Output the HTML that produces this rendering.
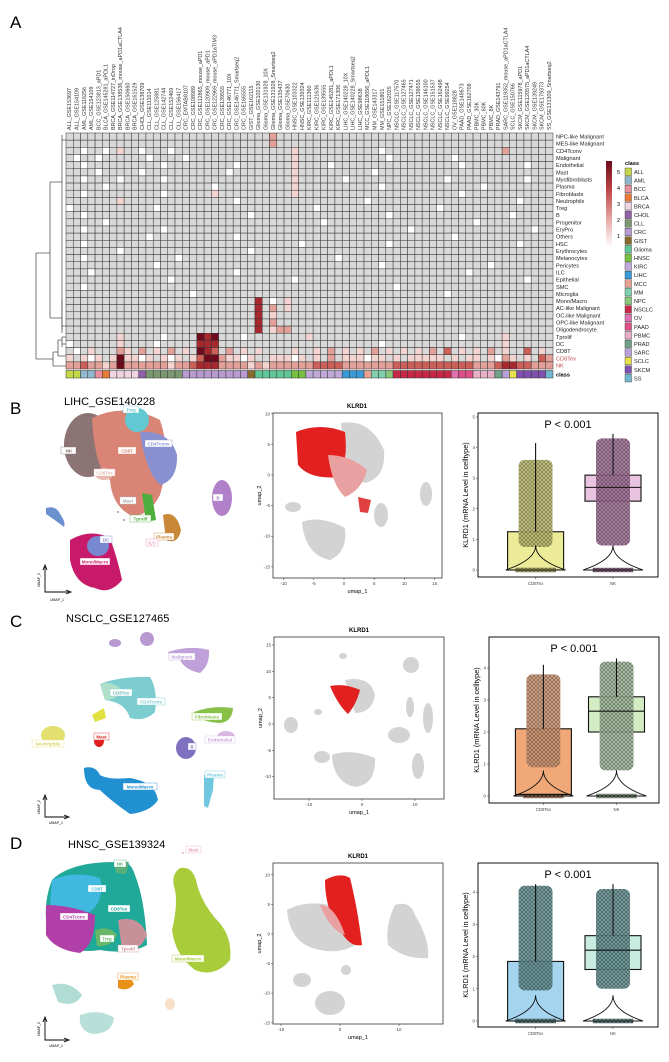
<!DOCTYPE html>
<html><head><meta charset="utf-8">
<style>
html,body{margin:0;padding:0;background:#fff;}
svg{display:block;font-family:"Liberation Sans",Arial,sans-serif;}
</style></head>
<body>
<svg id="fig" width="669" height="1062" viewBox="0 0 669 1062" xmlns="http://www.w3.org/2000/svg">
<defs>
 <pattern id="ptsOlive" width="4" height="4" patternUnits="userSpaceOnUse"><rect width="4" height="4" fill="#b8b878"/><circle cx="2" cy="2" r="1.4" fill="none" stroke="#5e5e20" stroke-width="0.6"/></pattern>
 <pattern id="ptsPurple" width="4" height="4" patternUnits="userSpaceOnUse"><rect width="4" height="4" fill="#a07898"/><circle cx="2" cy="2" r="1.4" fill="none" stroke="#4a2444" stroke-width="0.6"/></pattern>
 <pattern id="ptsBrown" width="4" height="4" patternUnits="userSpaceOnUse"><rect width="4" height="4" fill="#c89878"/><circle cx="2" cy="2" r="1.4" fill="none" stroke="#6a4430" stroke-width="0.6"/></pattern>
 <pattern id="ptsGreen" width="4" height="4" patternUnits="userSpaceOnUse"><rect width="4" height="4" fill="#a8bca0"/><circle cx="2" cy="2" r="1.4" fill="none" stroke="#3c5040" stroke-width="0.6"/></pattern>
 <pattern id="ptsTeal" width="4" height="4" patternUnits="userSpaceOnUse"><rect width="4" height="4" fill="#6e9494"/><circle cx="2" cy="2" r="1.4" fill="none" stroke="#1e3c40" stroke-width="0.6"/></pattern>
 <linearGradient id="cbar" x1="0" y1="0" x2="0" y2="1">
  <stop offset="0" stop-color="#6e0a1a"/><stop offset="0.35" stop-color="#c04848"/><stop offset="0.7" stop-color="#e8b0ac"/><stop offset="1" stop-color="#ffffff"/>
 </linearGradient>
</defs>

<!-- Panel labels & titles -->
<text x="10" y="28" font-size="17">A</text>
<text x="10" y="414" font-size="17">B</text>
<text x="10" y="627" font-size="17">C</text>
<text x="10" y="849" font-size="17">D</text>
<text x="64" y="405" font-size="11">LIHC_GSE140228</text>
<text x="66" y="622" font-size="11">NSCLC_GSE127465</text>
<text x="68" y="848" font-size="11">HNSC_GSE139324</text>

<g id="heat"></g>
<g id="dendro" stroke="#555" stroke-width="0.8" fill="none">
 <path d="M62,135 V330 M62,140 H66 M62,326 H66"/>
 <path d="M50,182 H62 M50,182 V318 M50,318 H62"/>
 <path d="M62,300 V333"/>
 <path d="M36,253 H50 M36,253 V359 M36,359 H53"/>
 <path d="M53,352 V366 M53,352 H58 M53,366 H66 M58,340 V356 M58,340 H62 M58,356 H66 M62,337 V347 M62,337 H66 M62,344 H66"/>
</g>

<!-- colorbar & class legend -->
<g>
 <rect x="606" y="161" width="6" height="86" fill="url(#cbar)"/>
 <text x="617" y="174" font-size="5.5">5</text>
 <text x="617" y="190" font-size="5.5">4</text>
 <text x="617" y="206" font-size="5.5">3</text>
 <text x="617" y="222" font-size="5.5">2</text>
 <text x="617" y="238" font-size="5.5">1</text>
</g>
<g id="classLegend"></g>

<!-- ===== Panel B ===== -->
<g>
 <ellipse cx="88" cy="445" rx="24" ry="32" fill="#8c7474"/>
 <path d="M92,418 Q125,402 160,420 Q172,455 160,495 Q148,518 130,515 Q112,505 110,480 Q95,470 92,418Z" fill="#d98474"/>
 <ellipse cx="137" cy="420" rx="12" ry="12" fill="#62c8d2"/>
 <path d="M140,432 Q170,430 177,455 Q178,480 160,485 Q145,470 140,432Z" fill="#8890d0"/>
 <ellipse cx="104" cy="474" rx="9" ry="6" fill="#e8b8b0"/>
 <path d="M142,493 L152,495 L156,520 L146,522Z" fill="#4cae3c"/>
 <path d="M163,515 Q176,510 181,530 Q178,545 166,540Z" fill="#c88838"/>
 <ellipse cx="222" cy="498" rx="10" ry="18" fill="#b080c8"/>
 <path d="M70,540 Q90,528 110,538 Q118,560 122,580 Q110,595 95,588 Q75,585 70,560Z" fill="#c81a6a"/>
 <ellipse cx="98" cy="546" rx="11" ry="10" fill="#7888d0"/>
 <path d="M46,508 Q56,505 60,514 Q66,522 64,527 Q55,520 46,514Z" fill="#6a90d0"/>
 <circle cx="149" cy="543" r="1.5" fill="#e890b8"/>
 <circle cx="122" cy="506" r="1" fill="#999"/><circle cx="118" cy="512" r="1" fill="#999"/><circle cx="124" cy="520" r="1" fill="#999"/>
 <g font-size="4.5" font-weight="bold" text-anchor="middle">
  <rect x="61" y="447" width="15" height="7" fill="#fff" stroke="#8c7474" stroke-width="0.4"/><text x="69" y="452.5" fill="#8c7474">NK</text>
  <rect x="118" y="447" width="18" height="7" fill="#fff" stroke="#d98474" stroke-width="0.4"/><text x="127" y="452.5" fill="#d98474">CD8T</text>
  <rect x="145" y="440" width="27" height="7" fill="#fff" stroke="#8890d0" stroke-width="0.4"/><text x="158.5" y="445.5" fill="#8890d0">CD4Tconv</text>
  <rect x="123" y="406" width="16" height="7" fill="#fff" stroke="#62c8d2" stroke-width="0.4"/><text x="131" y="411.5" fill="#62c8d2">Treg</text>
  <rect x="94" y="469" width="21" height="7" fill="#fff" stroke="#e8b8b0" stroke-width="0.4"/><text x="104.5" y="474.5" fill="#e8b8b0">CD8Tex</text>
  <rect x="120" y="497" width="16" height="7" fill="#fff" stroke="#bbb" stroke-width="0.4"/><text x="128" y="502.5" fill="#aaa">Mast</text>
  <rect x="130" y="515" width="21" height="7" fill="#fff" stroke="#4cae3c" stroke-width="0.4"/><text x="140.5" y="520.5" fill="#4cae3c">Tprolif</text>
  <rect x="154" y="533" width="20" height="7" fill="#fff" stroke="#c88838" stroke-width="0.4"/><text x="164" y="538.5" fill="#c88838">Plasma</text>
  <rect x="213" y="494" width="10" height="7" fill="#fff" stroke="#b080c8" stroke-width="0.4"/><text x="218" y="499.5" fill="#b080c8">B</text>
  <rect x="100" y="536" width="12" height="7" fill="#fff" stroke="#7888d0" stroke-width="0.4"/><text x="106" y="541.5" fill="#7888d0">DC</text>
  <rect x="146" y="539" width="12" height="7" fill="#fff" stroke="#e890b8" stroke-width="0.4"/><text x="152" y="544.5" fill="#e890b8">ILC</text>
  <rect x="80" y="558" width="30" height="7" fill="#fff" stroke="#c81a6a" stroke-width="0.4"/><text x="95" y="563.5" fill="#c81a6a">Mono/Macro</text>
 </g>
</g>
<g stroke="#000" stroke-width="0.9" fill="none">
 <path d="M45,567 V592 H69"/><path d="M43,570 L45,565 L47,570 M66,590 L71,592 L66,594" />
</g>
<text x="57" y="601" font-size="3.5" text-anchor="middle">UMAP_1</text>
<text x="40" y="580" font-size="3.5" text-anchor="middle" transform="rotate(-90 40 580)">UMAP_2</text>

<g id="featB">
 <text x="357" y="408" font-size="6" font-weight="bold" text-anchor="middle">KLRD1</text>
 <rect x="273" y="413" width="169" height="165" fill="#fff" stroke="#333" stroke-width="0.8"/>
 <g fill="#d3d3d3">
  <path d="M341,423 Q370,418 384,450 Q386,478 365,483 Q345,478 341,423Z"/>
  <ellipse cx="426" cy="494" rx="6" ry="12"/>
  <ellipse cx="381" cy="515" rx="7" ry="12"/>
  <path d="M302,522 Q320,515 345,528 Q348,552 330,560 Q305,555 302,522Z"/>
  <ellipse cx="293" cy="507" rx="8" ry="5"/>
 </g>
 <path d="M296,432 Q320,422 345,432 Q348,460 340,477 Q310,480 298,465Z" fill="#e32020"/>
 <path d="M328,455 Q350,455 367,470 Q362,490 345,497 Q332,485 328,455Z" fill="#e8a0a0"/>
 <path d="M358,497 L371,500 L368,513 L360,512Z" fill="#e04040"/>
</g>
<g id="featC">
 <text x="359" y="632" font-size="6" font-weight="bold" text-anchor="middle">KLRD1</text>
 <rect x="274" y="637" width="170" height="162" fill="#fff" stroke="#333" stroke-width="0.8"/>
 <g fill="#d3d3d3">
  <path d="M345,680 Q370,675 375,695 Q372,713 355,713Z"/>
  <ellipse cx="291" cy="725" rx="7" ry="8"/>
  <path d="M332,755 Q350,748 375,758 Q376,785 355,787 Q333,782 332,755Z"/>
  <ellipse cx="322" cy="757" rx="8" ry="6"/>
  <ellipse cx="399" cy="735" rx="11" ry="8"/>
  <ellipse cx="428" cy="718" rx="5" ry="15"/>
  <ellipse cx="411" cy="665" rx="8" ry="8"/>
  <ellipse cx="410" cy="707" rx="4" ry="10"/>
  <ellipse cx="418" cy="766" rx="6" ry="13"/>
  <ellipse cx="343" cy="656" rx="4" ry="3"/>
  <ellipse cx="318" cy="712" rx="4" ry="3"/>
 </g>
 <path d="M330,686 Q345,683 360,690 Q356,705 348,714 Q338,705 330,686Z" fill="#e32020"/>
</g>
<g id="featD">
 <text x="358" y="858" font-size="6" font-weight="bold" text-anchor="middle">KLRD1</text>
 <rect x="273" y="863" width="170" height="161" fill="#fff" stroke="#333" stroke-width="0.8"/>
 <g fill="#d3d3d3">
  <path d="M287,910 Q305,900 330,905 Q355,915 362,940 Q345,955 320,950 Q290,945 287,910Z"/>
  <path d="M395,905 Q410,900 415,915 Q430,940 428,958 Q405,960 388,945 Q385,925 395,905Z"/>
  <ellipse cx="330" cy="1003" rx="15" ry="12"/>
  <ellipse cx="302" cy="980" rx="9" ry="7"/>
  <ellipse cx="346" cy="970" rx="5" ry="5"/>
 </g>
 <path d="M325,880 Q340,872 350,878 Q358,910 362,945 Q350,948 340,930 Q325,910 325,880Z" fill="#e32020"/>
 <path d="M320,905 Q335,905 345,935 Q330,930 320,905Z" fill="#eaa0a0"/>
</g>

<!-- ===== Panel C UMAP ===== -->
<g>
 <ellipse cx="115" cy="643" rx="6" ry="4" fill="#b89ad0"/>
 <ellipse cx="147" cy="639" rx="7" ry="7" fill="#b89ad0"/>
 <path d="M168,652 Q190,645 209,650 Q210,665 200,673 Q185,670 180,660 Q170,660 168,652Z" fill="#c0a0d8"/>
 <path d="M100,684 Q120,676 150,677 Q158,690 155,712 Q145,722 130,718 Q125,702 105,700Z" fill="#7cccd0"/>
 <path d="M100,684 Q112,680 122,690 Q118,700 105,700Z" fill="#b0e0c8"/>
 <path d="M92,715 L104,708 L106,718 L95,722Z" fill="#e0e040"/>
 <ellipse cx="53" cy="735" rx="12" ry="9" fill="#e4e070"/>
 <ellipse cx="99" cy="741" rx="5" ry="6" fill="#e02020"/>
 <path d="M194,712 Q212,705 233,708 Q232,722 220,723 Q200,722 194,712Z" fill="#88c048"/>
 <ellipse cx="226" cy="737" rx="9" ry="6" fill="#d8b8e0"/>
 <ellipse cx="186" cy="748" rx="10" ry="11" fill="#8070c0"/>
 <path d="M84,768 Q95,765 100,775 Q108,780 130,778 Q155,782 158,800 Q150,812 130,814 Q110,800 100,790 Q84,790 84,768Z" fill="#2090d0"/>
 <path d="M204,775 L214,774 L213,790 L208,808 L204,806Z" fill="#70c8e0"/>
 <g font-size="4.5" font-weight="bold" text-anchor="middle">
  <rect x="169" y="653" width="26" height="7" fill="#fff" stroke="#c0a0d8" stroke-width="0.4"/><text x="182" y="658.5" fill="#c0a0d8">Malignant</text>
  <rect x="110" y="689" width="22" height="7" fill="#fff" stroke="#7cccd0" stroke-width="0.4"/><text x="121" y="694.5" fill="#6cb8b8">CD8Tex</text>
  <rect x="137" y="698" width="28" height="7" fill="#fff" stroke="#7cccd0" stroke-width="0.4"/><text x="151" y="703.5" fill="#7cccd0">CD4Tconv</text>
  <rect x="192" y="713" width="30" height="7" fill="#fff" stroke="#88c048" stroke-width="0.4"/><text x="207" y="718.5" fill="#88c048">Fibroblasts</text>
  <rect x="205" y="736" width="30" height="7" fill="#fff" stroke="#d8b8e0" stroke-width="0.4"/><text x="220" y="741.5" fill="#c8a0d8">Endothelial</text>
  <rect x="32" y="740" width="32" height="7" fill="#fff" stroke="#e4e070" stroke-width="0.4"/><text x="48" y="745.5" fill="#d8d060">Neutrophils</text>
  <rect x="94" y="733" width="15" height="7" fill="#fff" stroke="#e02020" stroke-width="0.4"/><text x="101.5" y="738.5" fill="#e02020">Mast</text>
  <rect x="188" y="743" width="8" height="7" fill="#fff" stroke="#8070c0" stroke-width="0.4"/><text x="192" y="748.5" fill="#8070c0">B</text>
  <rect x="123" y="783" width="34" height="7" fill="#fff" stroke="#2090d0" stroke-width="0.4"/><text x="140" y="788.5" fill="#2090d0">Mono/Macro</text>
  <rect x="205" y="771" width="20" height="7" fill="#fff" stroke="#70c8e0" stroke-width="0.4"/><text x="215" y="776.5" fill="#70c8e0">Plasma</text>
 </g>
</g>
<g stroke="#000" stroke-width="0.9" fill="none">
 <path d="M45,797 V817 H67"/><path d="M43,800 L45,795 L47,800 M64,815 L69,817 L64,819"/>
</g>
<text x="56" y="824" font-size="3.5" text-anchor="middle">UMAP_1</text>
<text x="40" y="807" font-size="3.5" text-anchor="middle" transform="rotate(-90 40 807)">UMAP_2</text>

<!-- ===== Panel D UMAP ===== -->
<g>
 <path d="M52,880 Q70,862 115,862 Q130,858 135,875 Q145,900 147,945 Q130,955 100,950 Q70,955 48,935 Q42,905 52,880Z" fill="#20a898"/>
 <path d="M52,880 Q75,870 100,878 Q105,900 90,912 Q65,915 50,905Z" fill="#40b8e0"/>
 <path d="M46,905 Q70,905 95,915 Q95,945 80,953 Q55,950 46,935Z" fill="#b040a8"/>
 <path d="M114,860 L129,862 L126,874 L116,873Z" fill="#58b078"/>
 <path d="M95,930 Q110,925 117,935 Q112,947 97,946Z" fill="#68b868"/>
 <path d="M118,920 Q140,915 147,935 Q140,953 122,950Z" fill="#c89098"/>
 <path d="M180,868 Q192,866 196,880 Q200,900 215,918 Q233,935 230,960 Q215,978 195,970 Q175,955 172,930 Q178,905 175,890 Q170,875 180,868Z" fill="#a8cc3a"/>
 <path d="M118,978 Q130,975 134,984 Q128,992 118,988Z" fill="#e89018"/>
 <path d="M52,985 Q70,980 82,995 Q75,1008 58,1002Z" fill="#b0dcd4"/>
 <path d="M80,1015 Q100,1008 114,1018 Q112,1034 92,1034 Q78,1030 80,1015Z" fill="#b8e0d8"/>
 <ellipse cx="170" cy="1004" rx="5" ry="6" fill="#f8e0c8"/>
 <circle cx="183" cy="853" r="1" fill="#e8b0b8"/>
 <g font-size="4.5" font-weight="bold" text-anchor="middle">
  <rect x="114" y="860" width="12" height="7" fill="#fff" stroke="#58b078" stroke-width="0.4"/><text x="120" y="865.5" fill="#58b078">NK</text>
  <rect x="88" y="885" width="18" height="7" fill="#fff" stroke="#40b8e0" stroke-width="0.4"/><text x="97" y="890.5" fill="#40b8e0">CD8T</text>
  <rect x="108" y="905" width="22" height="7" fill="#fff" stroke="#20a898" stroke-width="0.4"/><text x="119" y="910.5" fill="#20a898">CD8Tex</text>
  <rect x="60" y="913" width="28" height="7" fill="#fff" stroke="#b040a8" stroke-width="0.4"/><text x="74" y="918.5" fill="#b040a8">CD4Tconv</text>
  <rect x="100" y="935" width="14" height="7" fill="#fff" stroke="#68b868" stroke-width="0.4"/><text x="107" y="940.5" fill="#68b868">Treg</text>
  <rect x="118" y="945" width="20" height="7" fill="#fff" stroke="#c89098" stroke-width="0.4"/><text x="128" y="950.5" fill="#c89098">Tprolif</text>
  <rect x="118" y="973" width="20" height="7" fill="#fff" stroke="#e89018" stroke-width="0.4"/><text x="128" y="978.5" fill="#e89018">Plasma</text>
  <rect x="172" y="955" width="32" height="7" fill="#fff" stroke="#a8cc3a" stroke-width="0.4"/><text x="188" y="960.5" fill="#a8cc3a">Mono/Macro</text>
  <rect x="186" y="846" width="15" height="7" fill="#fff" stroke="#e8b0b8" stroke-width="0.4"/><text x="193.5" y="851.5" fill="#e8a0b0">Mast</text>
 </g>
</g>
<g stroke="#000" stroke-width="0.9" fill="none">
 <path d="M45,1019 V1040 H67"/><path d="M43,1022 L45,1017 L47,1022 M64,1038 L69,1040 L64,1042"/>
</g>
<text x="56" y="1047" font-size="3.5" text-anchor="middle">UMAP_1</text>
<text x="40" y="1029" font-size="3.5" text-anchor="middle" transform="rotate(-90 40 1029)">UMAP_2</text>

<g id="featAxes"></g>
<g id="boxes"></g>

<script>
// ---------- Heatmap data ----------
const rowNames = ["NPC-like Malignant","MES-like Malignant","CD4Tconv","Malignant","Endothelial","Mast","Myofibroblasts","Plasma","Fibroblasts","Neutrophils","Treg","B","Progenitor","EryPro","Others","HSC","Erythrocytes","Melanocytes","Pericytes","ILC","Epithelial","SMC","Microglia","Mono/Macro","AC-like Malignant","OC-like Malignant","OPC-like Malignant","Oligodendrocyte","Tprolif","DC","CD8T","CD8Tex","NK"];
const colNames = ["ALL_GSE153697","ALL_GSE154109","AML_GSE116256","AML_GSE154109","BCC_GSE123813_aPD1","BLCA_GSE145281_aPDL1","BRCA_GSE114727_inDrop","BRCA_GSE138536_mouse_aPD1aCTLA4","BRCA_GSE150660","BRCA_GSE161529","CHOL_GSE138709","CLL_GSE111014","CLL_GSE125881","CLL_GSE142744","CLL_GSE152469","CLL_GSE156417","CRC_EMTAB8107","CRC_GSE108989","CRC_GSE112865_mouse_aPD1","CRC_GSE120909_mouse_aPD1","CRC_GSE122969_mouse_aPD1aTIM3","CRC_GSE139555","CRC_GSE146771_10X","CRC_GSE146771_Smartseq2","CRC_GSE166555","GIST_GSE162115","Glioma_GSE102130","Glioma_GSE131928_10X","Glioma_GSE131928_Smartseq2","Glioma_GSE135437","Glioma_GSE70630","HNSC_GSE103322","HNSC_GSE139324","KIRC_GSE111360","KIRC_GSE121636","KIRC_GSE139555","KIRC_GSE145281_aPDL1","KIRC_GSE171306","LIHC_GSE140228_10X","LIHC_GSE140228_Smartseq2","LIHC_GSE98638","MCC_GSE118056_aPDL1","MM_GSE143317","MM_GSE151801","NPC_GSE162025","NSCLC_GSE117570","NSCLC_GSE127465","NSCLC_GSE127471","NSCLC_GSE139555","NSCLC_GSE146100","NSCLC_GSE151537","NSCLC_GSE162498","NSCLC_GSE99254","OV_GSE118828","PAAD_GSE148673","PAAD_GSE162708","PBMC_30K","PBMC_60K","PBMC_8K","PRAD_GSE143791","SARC_GSE119352_mouse_aPD1aCTLA4","SCLC_GSE150766","SKCM_GSE115978_aPD1","SKCM_GSE120575_aPD1aCTLA4","SKCM_GSE139249","SKCM_GSE179373","SS_GSE131309_Smartseq2"];
// '.' = not detected (grey), 'w' = 0, 1-5 = expression level
const cellValues = [
".......... .......... ........2. .......... .......... .......... .......",
".......... .......... ........2. .......... .......... .......... .......",
"..w..w.1.. w...w..... .......... .1........ ...w...... .......... 2......",
".w..w..... .w....w... .......... .1........ ....w..... ...w...... .......",
"..w....... ...w...... ...w...... .1....w... .......... ....w..... ...w...",
"....w..... w......... ..w....... .1........ ..w....... .......... .......",
"..w....w.. ...w...... .......... .1......w. .......... ..w....... ...w...",
".....w.... .......... w......... .1........ ...w...... .......w.. .......",
"..w....... ...w...... 1......... .1........ .......... ....w..... .......",
".......1.. .......... ...w...... .......... .w........ .......... ..w....",
"w......... ..w....... .......... ....w..... .......... .w........ .......",
"..w....... .......... .....w.... .......... ....w..... .......... .w.....",
".....w.... .......... .......... .....w.... .......... ......w... .......",
"..w....... ...w...... .......... .......... .......w.. .......... ....w..",
".......... .w........ ...w...... .......... .......... ...w...... .......",
"..w....... .......... .......... ..w....... ....w..... .......... ..w....",
".......w.. .......... .....w.... .......... .......... .......... .......",
"..w....... .....w.... .......... .......w.. .......... .......... .......",
".......... ..w....... .......... .......... ...w...... ........w. .......",
"...w...... .......... ...w...... .......... .......... .....w.... .......",
".......... ....w..... .......... .w........ .......... .......... ...w...",
"..w....... .......... .......... .......... .....w.... .......... .......",
".......... .......w.. .......... .......... .......... ..w....... .......",
".......... .......... ......4.w. 1......... .......... .......... .......",
".......... .......... ......4.2. 1......... .......... .......... .......",
".......... .......... ......4.1. .......... .......... .......... .......",
".......... .......... ......4.2. .......... .......... .......... .......",
".......... .......... ......4.12 2......... .......... .......... .......",
".......1.. ...w....54 5...w..... ...1...... .......... ....w..... 1......",
"w......1.. ..w.....44 4......... .......... ...w...... .......... 1......",
".w.1...21. 2.1.2.1.54 3.2.1.1... .1..1.2.1. 1.2.1.1.1. 2.3.1.1.2. 1..3.1.",
"1.1w1.1511 w1.1w1.135 5211w1..11 1w1.1.2.11 1w11.1.111 11.1.11.1w 21.1.32",
"2232212522 2222122344 4222212122 2222333322 2222233333 3333332223 4433222"
];
const colClass = ["ALL","ALL","AML","AML","BCC","BLCA","BRCA","BRCA","BRCA","BRCA","CHOL","CLL","CLL","CLL","CLL","CLL","CRC","CRC","CRC","CRC","CRC","CRC","CRC","CRC","CRC","GIST","Glioma","Glioma","Glioma","Glioma","Glioma","HNSC","HNSC","KIRC","KIRC","KIRC","KIRC","KIRC","LIHC","LIHC","LIHC","MCC","MM","MM","NPC","NSCLC","NSCLC","NSCLC","NSCLC","NSCLC","NSCLC","NSCLC","NSCLC","OV","PAAD","PAAD","PBMC","PBMC","PBMC","PRAD","SARC","SCLC","SKCM","SKCM","SKCM","SKCM","SS"];
const classNames = ["ALL","AML","BCC","BLCA","BRCA","CHOL","CLL","CRC","GIST","Glioma","HNSC","KIRC","LIHC","MCC","MM","NPC","NSCLC","OV","PAAD","PBMC","PRAD","SARC","SCLC","SKCM","SS"];
const classColors = ["#c5d84a","#8fb8cc","#e8909e","#e87a3a","#f0d4e4","#9060a8","#7c9870","#b89ad0","#8a6a2a","#60c898","#78c040","#c0a8d8","#3a9ad8","#e8a090","#80d0b0","#88c878","#c82848","#e070b0","#e05088","#e8b0c8","#70a088","#b8a0d8","#e8e050","#8050b0","#70b8d0"];

// ---------- Boxplot data ----------
const boxCats = ["CD8Tex","NK"];
const boxB_q1 = [0, 2.25], boxB_med = [0, 2.7], boxB_q3 = [1.25, 3.1], boxB_max = [4.15, 4.45], boxB_ptLo = [0.75, 0.8], boxB_ptHi = [3.6, 4.3];
const boxC_q1 = [0, 2.0], boxC_med = [0.05, 2.65], boxC_q3 = [2.1, 3.1], boxC_max = [4.1, 4.3], boxC_ptLo = [0.9, 0.8], boxC_ptHi = [3.8, 4.2];
const boxD_q1 = [0, 1.6], boxD_med = [0, 2.2], boxD_q3 = [1.85, 2.65], boxD_max = [4.25, 4.25], boxD_ptLo = [0.95, 1.0], boxD_ptHi = [4.2, 4.1];
const yTicksB = [0,1,2,3,4,5], yTicksCD = [0,1,2,3,4];
const featTicksB_x = [-10,-5,0,5,10,15], featTicksB_y = [10,5,0,-5,-10,-15];
const featTicksC_x = [-10,0,10], featTicksC_y = [15,10,5,0,-5,-10];
const featTicksD_x = [-10,0,10], featTicksD_y = [10,5,0,-5,-10,-15];

const NS = "http://www.w3.org/2000/svg";
function mk(tag, attrs, parent){const e=document.createElementNS(NS,tag);for(const k in attrs)e.setAttribute(k,attrs[k]);parent.appendChild(e);return e;}

// ---------- Heatmap ----------
const heat = document.getElementById('heat');
const hx0 = 66, hx1 = 553, hy0 = 133, hy1 = 369;
const cw = (hx1-hx0)/colNames.length, rh = (hy1-hy0)/rowNames.length;
const xCol = i => hx0 + i*cw;
const yRow = j => hy0 + j*rh;
const levelColor = ["#ffffff","#f4d4d0","#e2a098","#cc6058","#a82830","#6e0a1a"];
function cellColor(ch){ if(ch==='.')return "#d9d9d9"; if(ch==='w')return "#ffffff"; return levelColor[+ch]; }
rowNames.forEach((rn,j)=>{
  const vals = cellValues[j].replace(/ /g,'');
  colNames.forEach((cn,i)=>{
    const r = mk('rect',{x:xCol(i),y:yRow(j),width:cw,height:rh,fill:cellColor(vals.charAt(i)||'.'),stroke:"#333","stroke-width":0.5},heat);
    
    
  });
  const t = mk('text',{x:hx1+3,y:yRow(j)+rh*0.78,"font-size":5.6,fill:(rn==="CD8Tex"||rn==="NK")?"#c0504d":"#222"},heat);
  t.textContent = rn;
  
  
});
colNames.forEach((cn,i)=>{
  const cx = xCol(i)+cw*0.72;
  const t = mk('text',{x:cx,y:130,"font-size":5.4,fill:"#333",transform:`rotate(-90 ${cx} 130)`},heat);
  t.textContent = cn;
  
  
  const r = mk('rect',{x:xCol(i),y:370.5,width:cw,height:7.5,fill:classColors[classNames.indexOf(colClass[i])],stroke:"#333","stroke-width":0.5},heat);
  
  
});
const ct = mk('text',{x:hx1+3,y:376.5,"font-size":5.6,"font-weight":"bold"},heat);
ct.textContent = "class";



const leg = document.getElementById('classLegend');
const lt = mk('text',{x:625,y:165,"font-size":5.6,"font-weight":"bold"},leg);
lt.textContent = "class";


classNames.forEach((c,k)=>{
  const y = 168 + k*8.6;
  const r = mk('rect',{x:625,y:y,width:6.5,height:7.6,fill:classColors[k],stroke:"#333","stroke-width":0.4},leg);
  
  
  const t = mk('text',{x:634,y:y+6,"font-size":5.6,fill:"#222"},leg);
  t.textContent = c;
  
  
});

// ---------- Feature plot axes ----------
const fa = document.getElementById('featAxes');
function featAxes(frame, xt, xZero, xPer, yt, yZero, yPer){
  const [l,t,r,b] = frame;
  xt.forEach(v=>{const x=xZero+v*xPer;
    mk('line',{x1:x,y1:b,x2:x,y2:b+2,stroke:"#333","stroke-width":0.5},fa);
    const tx=mk('text',{x:x,y:b+7,"font-size":4.5,"text-anchor":"middle",fill:"#444"},fa);tx.textContent=v;
    
    });
  yt.forEach(v=>{const y=yZero-v*yPer;
    mk('line',{x1:l-2,y1:y,x2:l,y2:y,stroke:"#333","stroke-width":0.5},fa);
    const tx=mk('text',{x:l-3,y:y+1.5,"font-size":4.5,"text-anchor":"end",fill:"#444"},fa);tx.textContent=v;
    
    });
  const xl=mk('text',{x:(l+r)/2,y:b+15,"font-size":5.5,"text-anchor":"middle"},fa);xl.textContent="umap_1";
  
  
  const ym=(t+b)/2;
  const yl=mk('text',{x:l-12,y:ym,"font-size":5.5,"text-anchor":"middle",transform:`rotate(-90 ${l-12} ${ym})`},fa);yl.textContent="umap_2";
  
  
}
featAxes([273,413,442,578], featTicksB_x, 344, 6.04, featTicksB_y, 475, 6.12);
featAxes([274,637,444,799], featTicksC_x, 362, 5.3, featTicksC_y, 724, 5.27);
featAxes([273,863,443,1024], featTicksD_x, 340, 5.9, featTicksD_y, 934, 5.92);

// ---------- Boxplots ----------
const bx = document.getElementById('boxes');
function boxPanel(frame, zeroY, perUnit, ticks, q1, med, q3, mx, lo, hi, boxFill, ptFill, ptStroke){
  const [l,t,r,b] = frame;
  const fr = mk('rect',{x:l,y:t,width:r-l,height:b-t,fill:"#fff",stroke:"#111","stroke-width":1},bx);
  
  
  const y = v => zeroY - v*perUnit;
  const xc = i => l + (r-l)*(0.32 + 0.43*i);
  ticks.forEach(v=>{
    mk('line',{x1:l-2,y1:y(v),x2:l,y2:y(v),stroke:"#333","stroke-width":0.5},bx);
    const tx=mk('text',{x:l-3,y:y(v)+1.5,"font-size":4.5,"text-anchor":"end",fill:"#444"},bx);tx.textContent=v;
    
    
  });
  const ym=(t+b)/2;
  const yl=mk('text',{x:l-10,y:ym,"font-size":7.3,"text-anchor":"middle",transform:`rotate(-90 ${l-10} ${ym})`},bx);
  yl.textContent="KLRD1 (mRNA Level in celltype)";
  
  
  const pt=mk('text',{x:(l+r)/2,y:t+15,"font-size":11,"text-anchor":"middle"},bx);
  pt.textContent="P < 0.001";
  
  
  boxCats.forEach((c,i)=>{
    const x=xc(i), w=56;
    const bb=mk('rect',{x:x-w/2,y:y(q3[i]),width:w,height:y(q1[i])-y(q3[i]),fill:boxFill[i],stroke:"#111","stroke-width":1.1},bx);
    
    
    const pp=mk('rect',{x:x-17,y:y(hi[i]),width:34,height:y(lo[i])-y(hi[i]),rx:6,fill:ptFill[i],opacity:0.9},bx);
    
    
    const zr=mk('rect',{x:x-20,y:y(0)-2,width:40,height:4,fill:ptFill[i],stroke:ptStroke,"stroke-width":0.4},bx);
    
    
    const wl=mk('line',{x1:x,y1:y(mx[i]),x2:x,y2:y(q3[i]),stroke:"#111","stroke-width":1.1},bx);
    
    
    const md=mk('line',{x1:x-w/2,y1:y(med[i]),x2:x+w/2,y2:y(med[i]),stroke:"#111","stroke-width":1.1},bx);
    
    
    const vb=mk('path',{d:`M${x-30},${y(0)} Q${x},${y(0)-10} ${x},${y(0.8)} Q${x},${y(0)-10} ${x+30},${y(0)} Z`,fill:"none",stroke:"#111","stroke-width":0.9},bx);
    
    
    mk('line',{x1:x,y1:b,x2:x,y2:b+2,stroke:"#333","stroke-width":0.5},bx);
    const xl=mk('text',{x:x,y:b+8,"font-size":4.3,"text-anchor":"middle",fill:"#444"},bx);
    xl.textContent=c;
    
    
  });
}
boxPanel([478,413,658,577], 570, 30.6, yTicksB, boxB_q1, boxB_med, boxB_q3, boxB_max, boxB_ptLo, boxB_ptHi, ["#ecec98","#e8c4e0"], ["url(#ptsOlive)","url(#ptsPurple)"], "#555");
boxPanel([489,637,659,803], 796, 32, yTicksCD, boxC_q1, boxC_med, boxC_q3, boxC_max, boxC_ptLo, boxC_ptHi, ["#f0a878","#d4ecc4"], ["url(#ptsBrown)","url(#ptsGreen)"], "#555");
boxPanel([478,863,658,1027], 1021, 32.2, yTicksCD, boxD_q1, boxD_med, boxD_q3, boxD_max, boxD_ptLo, boxD_ptHi, ["#a4d4ee","#c8ece0"], ["url(#ptsTeal)","url(#ptsTeal)"], "#333");
</script>
</svg>
</body></html>
